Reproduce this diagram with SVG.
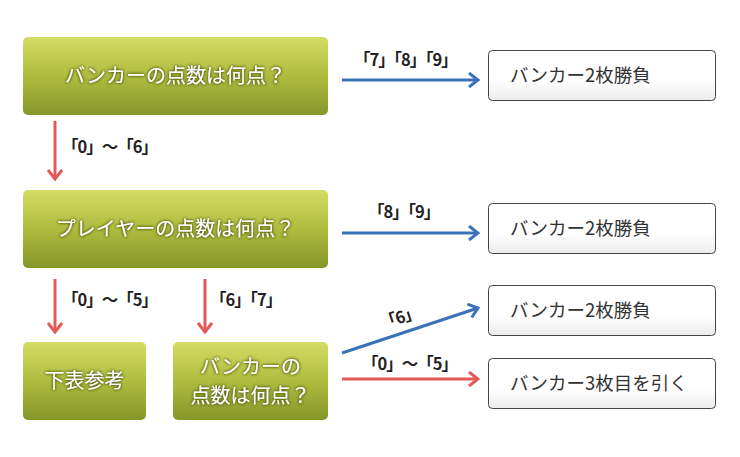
<svg xmlns="http://www.w3.org/2000/svg" width="740" height="457" viewBox="0 0 740 457">
<defs>
<linearGradient id="g" x1="0" y1="0" x2="0" y2="1">
<stop offset="0" stop-color="#d4dd64"/>
<stop offset="0.5" stop-color="#aebc3e"/>
<stop offset="1" stop-color="#86962a"/>
</linearGradient>
<linearGradient id="w" x1="0" y1="0" x2="0" y2="1">
<stop offset="0" stop-color="#ffffff"/>
<stop offset="0.6" stop-color="#ffffff"/>
<stop offset="1" stop-color="#ececec"/>
</linearGradient>
<filter id="sh" x="-10%" y="-30%" width="120%" height="160%">
<feGaussianBlur in="SourceAlpha" stdDeviation="1.6" result="b"/>
<feFlood flood-color="#4a5510" flood-opacity="0.9"/>
<feComposite in2="b" operator="in" result="s"/>
<feMerge><feMergeNode in="s"/><feMergeNode in="s"/><feMergeNode in="SourceGraphic"/></feMerge>
</filter>
<marker id="ab" viewBox="0 0 12 16" refX="10" refY="8" markerWidth="12" markerHeight="16" markerUnits="userSpaceOnUse" orient="auto">
<polyline points="1,1 10,8 1,15" fill="none" stroke="#3a72b8" stroke-width="3"/>
</marker>
<marker id="ar" viewBox="0 0 12 16" refX="10" refY="8" markerWidth="12" markerHeight="16" markerUnits="userSpaceOnUse" orient="auto">
<polyline points="1,1 10,8 1,15" fill="none" stroke="#e25a58" stroke-width="3"/>
</marker>
</defs>
<style>
.q{fill:url(#g)}
.r{fill:url(#w);stroke:#444;stroke-width:1}
.qt{font-family:"Noto Sans CJK JP","Noto Sans",sans-serif;font-size:20px;fill:#fff;text-anchor:middle;filter:url(#sh)}
.rt{font-family:"Noto Sans CJK JP","Noto Sans",sans-serif;font-size:18.5px;fill:#333}
.lb{font-family:"Noto Sans CJK JP","Noto Sans",sans-serif;font-size:16.5px;font-weight:bold;fill:#222;letter-spacing:-1px}
.cb{fill:none;stroke:#3a72b8;stroke-width:3;marker-end:url(#ab)}
.cr{fill:none;stroke:#e25a58;stroke-width:3;marker-end:url(#ar)}
</style>
<rect width="740" height="457" fill="#fff"/>

<g id="q1"><rect class="q" x="23" y="37" width="305" height="78" rx="5"/><text class="qt" x="175.5" y="83">バンカーの点数は何点？</text></g>
<g id="q2"><rect class="q" x="23" y="190" width="305" height="78" rx="5"/><text class="qt" x="175.5" y="236">プレイヤーの点数は何点？</text></g>
<g id="q3"><rect class="q" x="23" y="342" width="123" height="78" rx="5"/><text class="qt" x="84.5" y="388">下表参考</text></g>
<g id="q4"><rect class="q" x="173" y="342" width="155" height="78" rx="5"/><text class="qt" x="250.5" y="374">バンカーの</text><text class="qt" x="250.5" y="403">点数は何点？</text></g>

<g id="r1"><rect class="r" x="488.5" y="50.5" width="227" height="50" rx="4"/><text class="rt" x="510" y="82">バンカー2枚勝負</text></g>
<g id="r2"><rect class="r" x="488.5" y="203.5" width="227" height="50" rx="4"/><text class="rt" x="510" y="235">バンカー2枚勝負</text></g>
<g id="r3"><rect class="r" x="488.5" y="285.5" width="227" height="50" rx="4"/><text class="rt" x="510" y="317">バンカー2枚勝負</text></g>
<g id="r4"><rect class="r" x="488.5" y="358.5" width="227" height="50" rx="4"/><text class="rt" x="510" y="390">バンカー3枚目を引く</text></g>

<g id="connectors">
<line class="cb" x1="342" y1="80" x2="478" y2="80"/>
<line class="cb" x1="342" y1="233" x2="478" y2="233"/>
<line class="cr" x1="55" y1="121" x2="55" y2="179"/>
<line class="cr" x1="55" y1="279" x2="55" y2="332"/>
<line class="cr" x1="205" y1="279" x2="205" y2="332"/>
<line class="cb" x1="342" y1="353" x2="478" y2="308"/>
<line class="cr" x1="342" y1="379" x2="478" y2="379"/>
<text class="lb" x="354" y="66">「7」「8」「9」</text>
<text class="lb" x="368" y="218">「8」「9」</text>
<text class="lb" x="62" y="153">「0」～「6」</text>
<text class="lb" x="62" y="306">「0」～「5」</text>
<text class="lb" x="210" y="306">「6」「7」</text>
<text class="lb" x="380" y="324" transform="rotate(-18 398 318)">「6」</text>
<text class="lb" x="362" y="370">「0」～「5」</text>
</g>
</svg>
